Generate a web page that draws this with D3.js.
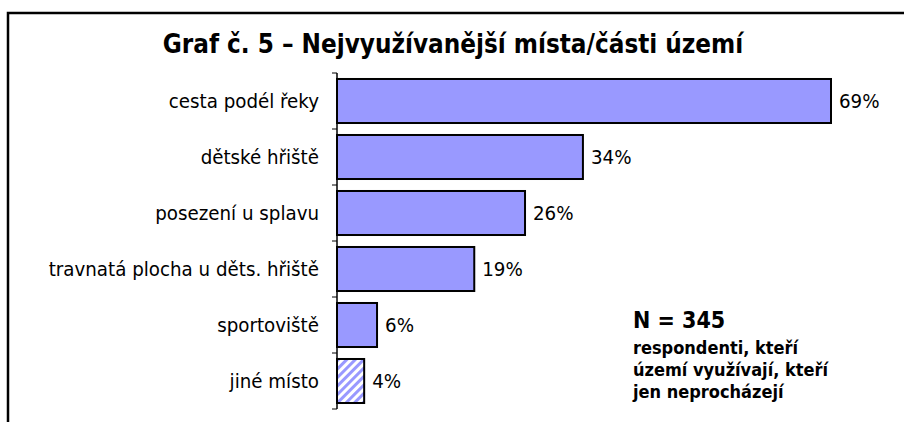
<!DOCTYPE html>
<html><head><meta charset="utf-8">
<script src="https://cdn.jsdelivr.net/npm/d3@7"></script>
<style>
html,body{margin:0;padding:0;background:#fff;}
svg{display:block;}
text{font-family:"DejaVu Sans Condensed","DejaVu Sans",Tahoma,Verdana,sans-serif;}
</style></head>
<body>
<svg id="chart" width="904" height="422"></svg>
<script>
const title = "Graf č. 5 – Nejvyužívanější místa/části území";
const categories = ["cesta podél řeky","dětské hřiště","posezení u splavu","travnatá plocha u děts. hřiště","sportoviště","jiné místo"];
const values = [69.1, 34.4, 26.3, 19.2, 5.6, 3.8];
const hatched = [false,false,false,false,false,true];
const noteLines = ["respondenti, kteří","území využívají, kteří","jen neprocházejí"];
const noteN = "N = 345";

const svg = d3.select("#chart");
const defs = svg.append("defs");
const pat = defs.append("pattern").attr("id","hatch").attr("patternUnits","userSpaceOnUse")
  .attr("width",6).attr("height",6).attr("patternTransform","rotate(45)");
pat.append("rect").attr("width",6).attr("height",6).attr("fill","#fff");
pat.append("rect").attr("width",3).attr("height",6).attr("fill","#9999FF");

// frame
svg.append("rect").attr("x",8).attr("y",13).attr("width",920).attr("height",440)
  .attr("fill","none").attr("stroke","#000").attr("stroke-width",2.5);

svg.append("text").attr("x",453).attr("y",53).attr("text-anchor","middle")
  .attr("font-size",25.8).attr("font-weight","bold").text(title);

const x = d3.scaleLinear().domain([0,69.1]).range([337,831]);
const y = d3.scaleBand().domain(categories).range([73,409]).paddingInner(0.214).paddingOuter(0.107);
const yTicks = d3.scaleLinear().domain([0,categories.length]).range([73,409]);

// bars
svg.selectAll("rect.bar").data(categories).join("rect").attr("class","bar")
  .attr("x",x(0)).attr("y",d=>y(d)).attr("height",y.bandwidth())
  .attr("width",(d,i)=>x(values[i])-x(0))
  .attr("fill",(d,i)=>hatched[i]?"url(#hatch)":"#9999FF")
  .attr("stroke","#000").attr("stroke-width",2);

// axis
svg.append("line").attr("x1",337).attr("x2",337).attr("y1",73).attr("y2",409)
  .attr("stroke","#000").attr("stroke-width",1.5);
svg.selectAll("line.tick").data(d3.range(categories.length+1)).join("line").attr("class","tick")
  .attr("x1",332).attr("x2",337).attr("y1",d=>yTicks(d)).attr("y2",d=>yTicks(d))
  .attr("stroke","#000").attr("stroke-width",1);

svg.selectAll("text.cat").data(categories).join("text").attr("class","cat")
  .attr("x",319).attr("y",d=>y(d)+y.bandwidth()/2).attr("dy","0.35em")
  .attr("text-anchor","end").attr("font-size",20.3).text(d=>d);

svg.selectAll("text.val").data(categories).join("text").attr("class","val")
  .attr("x",(d,i)=>x(values[i])+8).attr("y",d=>y(d)+y.bandwidth()/2).attr("dy","0.35em")
  .attr("font-size",20.3).text((d,i)=>Math.round(values[i])+"%");

svg.append("text").attr("x",633).attr("y",328).attr("font-size",23).attr("font-weight","bold").text(noteN);
svg.selectAll("text.note").data(noteLines).join("text").attr("class","note")
  .attr("x",633).attr("y",(d,i)=>354+i*22).attr("font-size",18).attr("font-weight","bold").text(d=>d);
</script>
</body></html>
